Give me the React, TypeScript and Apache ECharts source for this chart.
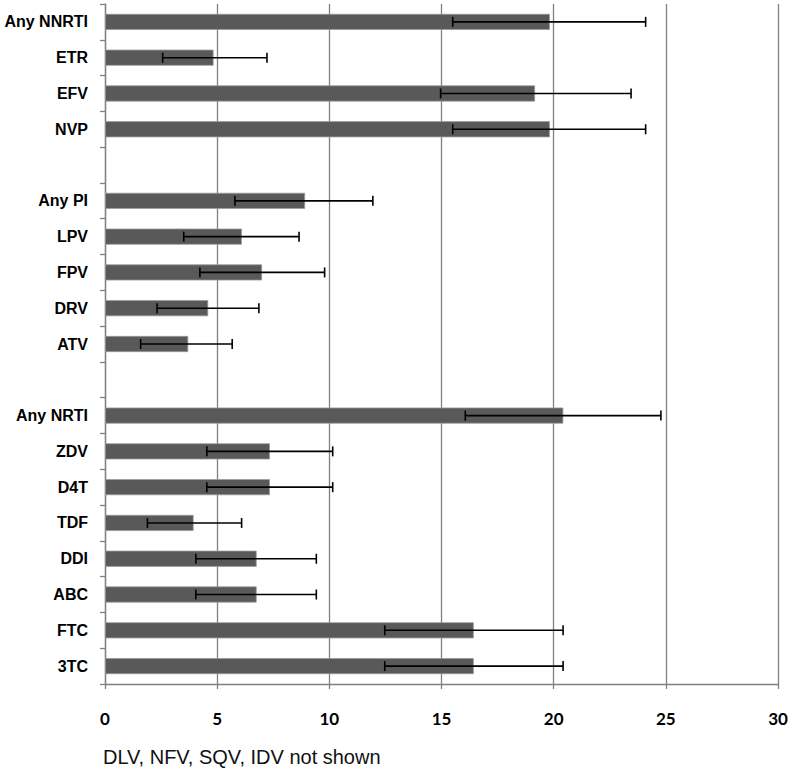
import React, { useEffect, useRef } from "react";
import * as echarts from "echarts";

const categories = [
  "Any NNRTI", "ETR", "EFV", "NVP", " ",
  "Any PI", "LPV", "FPV", "DRV", "ATV", "  ",
  "Any NRTI", "ZDV", "D4T", "TDF", "DDI", "ABC", "FTC", "3TC",
];
const values = [
  19.83, 4.84, 19.17, 19.83, null,
  8.92, 6.1, 7.0, 4.6, 3.71, null,
  20.43, 7.35, 7.35, 3.95, 6.76, 6.76, 16.44, 16.44,
];
const lower = [
  15.5, 2.57, 14.96, 15.5, null,
  5.79, 3.51, 4.23, 2.32, 1.59, null,
  16.06, 4.54, 4.54, 1.89, 4.05, 4.05, 12.47, 12.47,
];
const upper = [
  24.1, 7.22, 23.45, 24.1, null,
  11.94, 8.65, 9.79, 6.86, 5.67, null,
  24.78, 10.15, 10.15, 6.09, 9.42, 9.42, 20.42, 20.42,
];
const xTicks = { min: 0, max: 30, interval: 5 };
const footnote = "DLV, NFV, SQV, IDV not shown";

export default function App() {
  const ref = useRef<HTMLDivElement>(null);
  useEffect(() => {
    if (!ref.current) return;
    const chart = echarts.init(ref.current, null, { renderer: "svg" });
    const errData: any[] = [];
    categories.forEach((_, i) => {
      if (lower[i] != null && upper[i] != null) errData.push([i, lower[i], upper[i]]);
    });
    const gray = "#808080";
    chart.setOption({
      animation: false,
      backgroundColor: "#ffffff",
      grid: {
        left: 105,
        right: 14,
        top: 4,
        bottom: 90,
        containLabel: false,
        outerBoundsMode: "none",
      },
      xAxis: {
        type: "value",
        min: xTicks.min,
        max: xTicks.max,
        interval: xTicks.interval,
        axisLine: { show: true, lineStyle: { color: gray, width: 1.3 } },
        axisTick: { show: true, length: 5, lineStyle: { color: gray, width: 1.3 } },
        splitLine: { show: true, lineStyle: { color: gray, width: 1.3 } },
        axisLabel: {
          margin: 26,
          color: "#000",
          fontFamily: "Lato, sans-serif",
          fontWeight: "bold",
          fontSize: 17,
        },
      },
      yAxis: {
        type: "category",
        inverse: true,
        data: categories,
        axisLine: { show: true, lineStyle: { color: gray, width: 1.3 } },
        axisTick: { show: true, length: 5, alignWithLabel: false, lineStyle: { color: gray, width: 1.3 } },
        splitLine: { show: false },
        axisLabel: {
          margin: 17,
          color: "#000",
          fontFamily: "'Liberation Sans', Arial, sans-serif",
          fontWeight: "bold",
          fontSize: 16,
        },
      },
      graphic: [
        {
          type: "text",
          left: 103,
          top: 747,
          style: {
            text: footnote,
            fill: "#111",
            font: "20px 'Liberation Sans', Arial, sans-serif",
          },
        },
      ],
      series: [
        {
          type: "bar",
          data: values,
          barWidth: "45%",
          itemStyle: { color: "#595959", borderColor: "#9a9a9a", borderWidth: 0.8 },
          z: 2,
        },
        {
          type: "custom",
          data: errData,
          encode: { x: [1, 2], y: 0 },
          z: 3,
          renderItem: (params: any, api: any) => {
            const idx = api.value(0);
            const lo = api.coord([api.value(1), idx]);
            const hi = api.coord([api.value(2), idx]);
            const h = 5;
            const st = { stroke: "#000", lineWidth: 1.6 };
            return {
              type: "group",
              children: [
                { type: "line", shape: { x1: lo[0], y1: lo[1], x2: hi[0], y2: hi[1] }, style: st },
                { type: "line", shape: { x1: lo[0], y1: lo[1] - h, x2: lo[0], y2: lo[1] + h }, style: st },
                { type: "line", shape: { x1: hi[0], y1: hi[1] - h, x2: hi[0], y2: hi[1] + h }, style: st },
              ],
            };
          },
        },
      ],
    });
    return () => chart.dispose();
  }, []);
  return (
    <div
      ref={ref}
      style={{ position: "fixed", left: 0, top: 0, width: 792, height: 774, background: "#fff" }}
    />
  );
}
